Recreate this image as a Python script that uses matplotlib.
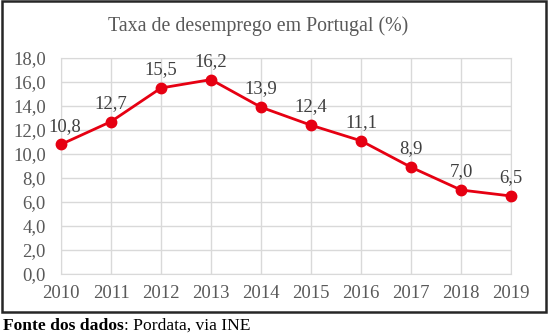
import matplotlib
matplotlib.use("Agg")
import matplotlib.pyplot as plt
from matplotlib.patches import Rectangle

years = [2010, 2011, 2012, 2013, 2014, 2015, 2016, 2017, 2018, 2019]
rates = [10.8, 12.7, 15.5, 16.2, 13.9, 12.4, 11.1, 8.9, 7.0, 6.5]
yticks = [0, 2, 4, 6, 8, 10, 12, 14, 16, 18]
title = "Taxa de desemprego em Portugal (%)"

plt.rcParams['font.family'] = ['Liberation Serif', 'DejaVu Serif']

fig = plt.figure(figsize=(5.51, 3.36), dpi=100)
ax = fig.add_axes([61/551, 1-274/336, 450/551, 216/336])

ax.plot(years, rates, color='#E60012', lw=2, marker='o', ms=7.5, zorder=3, clip_on=False)
for x, y in zip(years, rates):
    dx = 3 if x == years[0] else 0
    ax.annotate(f"{y:.1f}".replace('.', ','), (x, y), xytext=(dx, 7), textcoords='offset points',
                ha='center', va='bottom', fontsize=13.5, color='#404040')

ax.set_xlim(years[0], years[-1])
ax.set_ylim(0, 18)
ax.set_yticks(yticks)
ax.set_yticklabels([f"{v:.1f}".replace('.', ',') for v in yticks])
ax.set_xticks(years)
ax.set_xticklabels([str(y) for y in years])
ax.tick_params(length=0, labelsize=13.5, colors='#595959')
ax.tick_params(axis='y', pad=11)
ax.tick_params(axis='x', pad=8)
ax.grid(True, color='#D9D9D9', lw=1)
ax.set_axisbelow(True)
for s in ax.spines.values():
    s.set_color('#D9D9D9')

fig.text(258/551, 1-26/336, title, ha='center', va='center', fontsize=14.3, color='#595959')

fig.patches.append(Rectangle((2/551, 1-312/336), 544/551, 311/336, transform=fig.transFigure,
                             fill=False, ec='#262626', lw=1.8))

t1 = fig.text(3/551, 1-325/336, "Fonte dos dados", fontsize=12.6, fontweight='bold',
              va='baseline', ha='left', color='black')
fig.canvas.draw()
bb = t1.get_window_extent(renderer=fig.canvas.get_renderer())
x_end = fig.transFigure.inverted().transform((bb.x1, 0))[0]
fig.text(x_end + 0.5/551, 1-325/336, ": Pordata, via INE", fontsize=12.6,
         va='baseline', ha='left', color='black')
t1.set_y(1-330/336)
fig.texts[-1].set_y(1-330/336)

fig.savefig("out.png", dpi=100)
